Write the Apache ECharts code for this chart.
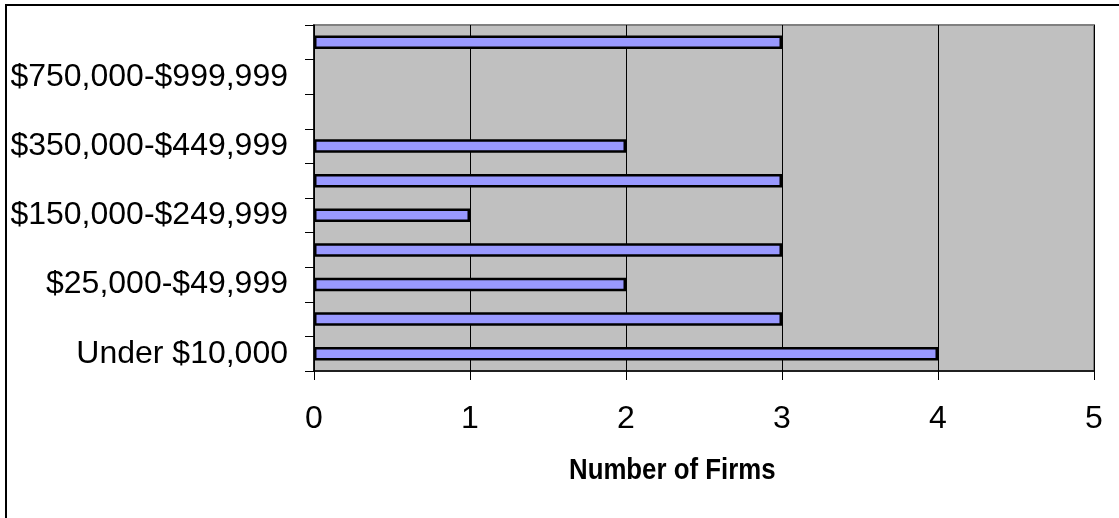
<!DOCTYPE html>
<html>
<head>
<meta charset="utf-8">
<script src="https://cdn.jsdelivr.net/npm/echarts@6/dist/echarts.min.js"></script>
<style>
  html, body { margin: 0; padding: 0; background: #ffffff; }
  #chart { width: 1119px; height: 518px; }
</style>
</head>
<body>
<div id="chart"></div>
<script>
// Revenue brackets, bottom to top
const categories = [
  'Under $10,000',
  '$10,000-$24,999',
  '$25,000-$49,999',
  '$50,000-$149,999',
  '$150,000-$249,999',
  '$250,000-$349,999',
  '$350,000-$449,999',
  '$450,000-$749,999',
  '$750,000-$999,999',
  '$1,000,000 or more'
];
// Number of firms in each bracket
const firms = [4, 3, 2, 3, 1, 3, 2, 0, 0, 3];
const xTicks = [0, 1, 2, 3, 4, 5];
const xAxisTitle = 'Number of Firms';

const FONT = 'Arial, "Liberation Sans", sans-serif';

// empty brackets get no outline, so no stub is drawn at zero
const barData = firms.map(v => v === 0 ? { value: v, itemStyle: { borderWidth: 0 } } : v);

const chart = echarts.init(document.getElementById('chart'), null, { renderer: 'canvas' });

chart.setOption({
  animation: false,
  backgroundColor: '#ffffff',
  grid: {
    left: 314, right: 25, top: 25, bottom: 147,
    show: true,
    backgroundColor: '#c0c0c0',
    borderColor: '#808080',
    borderWidth: 2
  },
  xAxis: {
    type: 'value',
    min: xTicks[0],
    max: xTicks[xTicks.length - 1],
    interval: 1,
    axisLine: { show: true, lineStyle: { color: '#000000', width: 1.5 } },
    axisTick: { show: true, length: 9, lineStyle: { color: '#000000', width: 1 } },
    axisLabel: { color: '#000000', fontFamily: FONT, fontSize: 32, margin: 32 },
    splitLine: { show: true, lineStyle: { color: '#000000', width: 1 } }
  },
  yAxis: {
    type: 'category',
    data: categories,
    boundaryGap: true,
    axisLine: { show: true, lineStyle: { color: '#000000', width: 1.5 } },
    axisTick: { show: true, length: 9, interval: 0, lineStyle: { color: '#000000', width: 1 } },
    axisLabel: { color: '#000000', fontFamily: FONT, fontSize: 32, margin: 26, interval: 1 },
    splitLine: { show: false }
  },
  series: [{
    type: 'bar',
    data: barData,
    barWidth: 13.5,
    itemStyle: { color: '#9999ff', borderColor: '#000000', borderWidth: 2.5 }
  }],
  graphic: [
    {
      type: 'rect',
      shape: { x: 6, y: 5, width: 1200, height: 600 },
      style: { fill: null, stroke: '#000000', lineWidth: 2 },
      silent: true,
      z: 100
    },
    {
      type: 'text',
      x: 569,
      y: 470.5,
      scaleX: 0.89,
      style: {
        text: xAxisTitle,
        fill: '#000000',
        font: 'bold 29px ' + FONT,
        align: 'left',
        verticalAlign: 'middle'
      }
    }
  ]
});
</script>
</body>
</html>
